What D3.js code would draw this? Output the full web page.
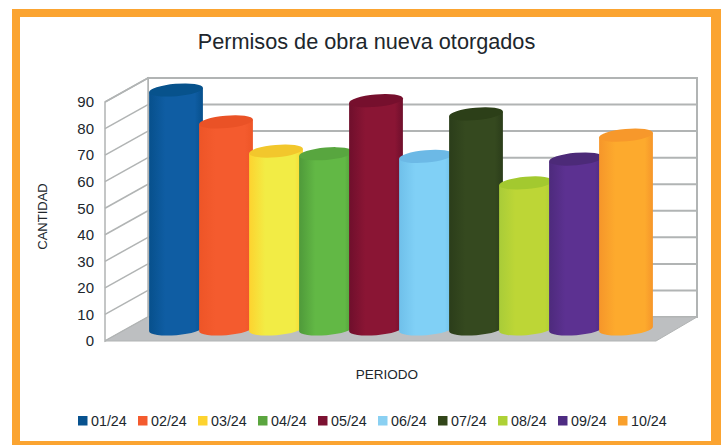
<!DOCTYPE html>
<html>
<head>
<meta charset="utf-8">
<script src="https://cdn.jsdelivr.net/npm/d3@7"></script>
<style>
  html, body { margin: 0; padding: 0; background: #fff; }
  svg { display: block; }
  text { font-family: "Liberation Sans", Arial, sans-serif; fill: #20262c; }
</style>
</head>
<body>
<div id="chart"></div>
<script>
// Chart data
var periods = ["01/24", "02/24", "03/24", "04/24", "05/24", "06/24", "07/24", "08/24", "09/24", "10/24"];
var permits = [90, 78, 67, 66, 86, 65, 81, 55, 64, 73];
var yTicks = [0, 10, 20, 30, 40, 50, 60, 70, 80, 90];

// Colours: [edge, middle, cylinder top], one row per period
var barColors = [
  ["#07508c", "#0f5da3", "#07528c"],
  ["#ee5527", "#f45b2e", "#ea5226"],
  ["#fdd32f", "#f2ec45", "#f2c72c"],
  ["#4f9a3a", "#62b845", "#58a63f"],
  ["#6f0f2c", "#8a1534", "#760f2d"],
  ["#6fc0ea", "#80d0f6", "#6cb9e6"],
  ["#2b3d1a", "#35491f", "#2c3f18"],
  ["#a9cc38", "#bdd636", "#a3c92f"],
  ["#4d2a7c", "#5c3191", "#4c2a78"],
  ["#f6962a", "#fdaa2d", "#f7982b"]
];
var legendColors = ["#07528f", "#f45b2e", "#fdd32f", "#5ba53f", "#7c1232", "#8ad0f2", "#324619", "#aed136", "#4e2c82", "#f9a02c"];

var svgWidth = 724;
var svgHeight = 445;
var frameColor = "#fba431";
var depthX = 43;   // wall offset, back vs front
var depthY = 24;

var svg = d3.select("#chart")
  .append("svg")
  .attr("width", svgWidth)
  .attr("height", svgHeight);

// Orange frame
svg.append("rect")
  .attr("x", 12)
  .attr("y", 9)
  .attr("width", 709)
  .attr("height", 436)
  .attr("fill", frameColor);
svg.append("rect")
  .attr("x", 20)
  .attr("y", 17)
  .attr("width", 691)
  .attr("height", 424)
  .attr("fill", "#fff");

// Scales: front of the box, back wall and the bars in between
var yFront = d3.scaleLinear().domain([0, 90]).range([341, 102]);
var yBack = yFront.copy().range([341 - depthY, 102 - depthY]);
var yBar = yFront.copy().range([329, 90]);
var xBar = d3.scalePoint().domain(periods).range([176, 626]);
var xLegend = d3.scalePoint().domain(periods).range([78, 618]);

var frontLeft = 105, frontRight = 656;
var backLeft = frontLeft + depthX, backRight = 697;
var wallColor = "#b1b4b4";

// Walls and floor
var walls = svg.append("g");
walls.append("polygon")
  .attr("points", [[backLeft, yBack(0)], [backRight, yBack(0)], [backRight, yBack(90)], [backLeft, yBack(90)]].join(" "))
  .attr("fill", "#fff").attr("stroke", wallColor).attr("stroke-width", 2);
walls.append("polygon")
  .attr("points", [[frontLeft, yFront(0)], [backLeft, yBack(0)], [backLeft, yBack(90)], [frontLeft, yFront(90)]].join(" "))
  .attr("fill", "#fff").attr("stroke", wallColor).attr("stroke-width", 1.5);

// Gridlines, side wall + back wall
yTicks.slice(1).forEach(function(t) {
  walls.append("line")
    .attr("x1", frontLeft).attr("y1", yFront(t))
    .attr("x2", backLeft).attr("y2", yBack(t))
    .attr("stroke", wallColor).attr("stroke-width", 1.5);
  walls.append("line")
    .attr("x1", backLeft).attr("y1", yBack(t))
    .attr("x2", backRight).attr("y2", yBack(t))
    .attr("stroke", wallColor).attr("stroke-width", 2);
});

walls.append("polygon")
  .attr("points", [[frontLeft, yFront(0)], [backLeft, yBack(0)], [backRight, yBack(0)], [frontRight, yFront(0)]].join(" "))
  .attr("fill", "#bdbfc1").attr("stroke", "#b1b4b4").attr("stroke-width", 1);

// Cylinder gradients
var defs = svg.append("defs");
periods.forEach(function(p, i) {
  var grad = defs.append("linearGradient")
    .attr("id", "bar" + i)
    .attr("x1", "0%").attr("x2", "100%").attr("y1", "0%").attr("y2", "0%");
  [[0, 0], [0.3, 1], [0.6, 1], [0.85, 1], [1, 0]].forEach(function(s) {
    grad.append("stop")
      .attr("offset", s[0])
      .attr("stop-color", barColors[i][s[1]]);
  });
});

// Bars, later ones sit over the earlier ones
var rx = 27, ry = 6.2, tilt = -5;
var dx = rx * Math.cos(tilt * Math.PI / 180);
var dy = rx * Math.sin(tilt * Math.PI / 180);

var bars = svg.selectAll(".bar")
  .data(periods)
  .enter()
  .append("g")
  .attr("class", "bar");

bars.append("path")
  .attr("fill", function(d, i) { return "url(#bar" + i + ")"; })
  .attr("d", function(d, i) {
    var cx = xBar(d), top = yBar(permits[i]), base = yBar(0);
    return "M" + (cx - dx) + "," + (top - dy)
      + "L" + (cx - dx) + "," + (base - dy)
      + "A" + rx + "," + ry + " " + tilt + " 0 0 " + (cx + dx) + "," + (base + dy)
      + "L" + (cx + dx) + "," + (top + dy) + "Z";
  });

bars.append("ellipse")
  .attr("rx", rx)
  .attr("ry", ry)
  .attr("transform", function(d, i) {
    return "translate(" + xBar(d) + "," + yBar(permits[i]) + ") rotate(" + tilt + ")";
  })
  .attr("fill", function(d, i) { return barColors[i][2]; });

// Value axis
var yAxis = svg.append("g")
  .attr("transform", "translate(100,0)")
  .call(d3.axisLeft(yFront).tickValues(yTicks).tickSize(0).tickPadding(6));
yAxis.select(".domain").remove();
yAxis.selectAll("text")
  .attr("font-size", 15)
  .style("font-family", '"Liberation Sans", Arial, sans-serif')
  .attr("fill", "#20262c");

// Titles
svg.append("text")
  .attr("x", 366.5).attr("y", 49)
  .attr("text-anchor", "middle")
  .attr("font-size", 21.7)
  .text("Permisos de obra nueva otorgados");

svg.append("text")
  .attr("x", 387).attr("y", 379)
  .attr("text-anchor", "middle")
  .attr("font-size", 13.5)
  .text("PERIODO");

svg.append("text")
  .attr("transform", "translate(47,216.5) rotate(-90)")
  .attr("text-anchor", "middle")
  .attr("font-size", 13)
  .text("CANTIDAD");

// Legend
var legend = svg.selectAll(".legend")
  .data(periods)
  .enter()
  .append("g")
  .attr("class", "legend")
  .attr("transform", function(d) { return "translate(" + xLegend(d) + ",416)"; });

legend.append("rect")
  .attr("width", 9.5)
  .attr("height", 9.5)
  .attr("fill", function(d, i) { return legendColors[i]; });

legend.append("text")
  .attr("x", 13)
  .attr("y", 10)
  .attr("font-size", 14.3)
  .text(function(d) { return d; });
</script>
</body>
</html>
